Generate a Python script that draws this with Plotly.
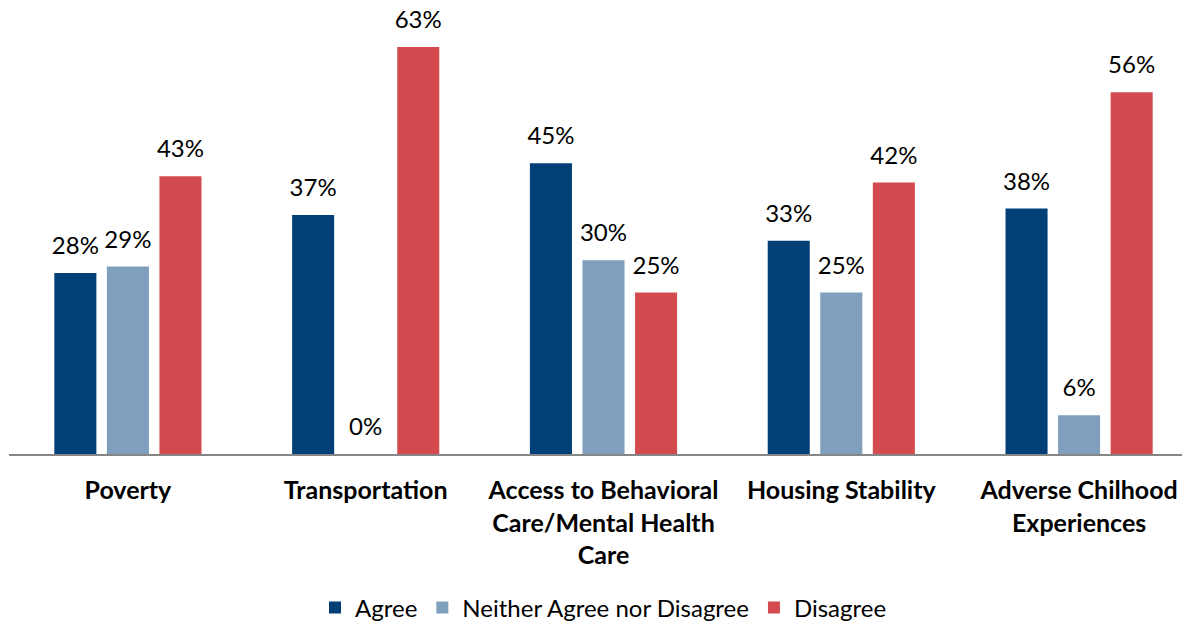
import plotly.graph_objects as go

categories = ["<b>Poverty</b>", "<b>Transportation</b>",
              "<b>Access to Behavioral<br>Care/Mental Health<br>Care</b>",
              "<b>Housing Stability</b>", "<b>Adverse Chilhood<br>Experiences</b>"]
agree = [28, 37, 45, 33, 38]
neither = [29, 0, 30, 25, 6]
disagree = [43, 63, 25, 42, 56]

series = [("Agree", agree, "#023f77"),
          ("Neither Agree nor Disagree", neither, "#7f9fbd"),
          ("Disagree", disagree, "#d34b4f")]

FONT = "Lato"
GAP = 0.337
fig = go.Figure()
for name, vals, col in series:
    fig.add_trace(go.Bar(
        x=categories, y=vals, name=name, marker=dict(color=col, line=dict(width=0)),
        cliponaxis=False,
    ))
for name, vals, col in series:
    fig.add_trace(go.Scatter(
        x=categories, y=vals, mode="markers+text", showlegend=False,
        text=[f"{v}%" for v in vals], textposition="top center",
        marker=dict(size=19, opacity=0, color=col),
        textfont=dict(size=24, color="black", family=FONT),
        cliponaxis=False, hoverinfo="skip",
    ))

fig.update_layout(
    width=1190, height=624,
    margin=dict(l=1, r=0, t=4, b=178),
    plot_bgcolor="white", paper_bgcolor="white",
    barmode="group", bargap=GAP, bargroupgap=0.2,
    scattermode="group", scattergap=GAP,
    font=dict(family=FONT, size=24, color="black"),
    showlegend=True,
    legend=dict(orientation="h", x=0.5, xanchor="center", y=-0.348, yanchor="middle",
                font=dict(size=24, family=FONT), traceorder="normal", itemwidth=30),
    xaxis=dict(showline=True, linecolor="#868686", linewidth=2, ticks="outside",
               ticklen=13, tickcolor="rgba(0,0,0,0)",
               tickfont=dict(size=25, family=FONT, color="black")),
    yaxis=dict(range=[0, 68.4], visible=False, showgrid=False),
)
fig.write_html("out.html")
